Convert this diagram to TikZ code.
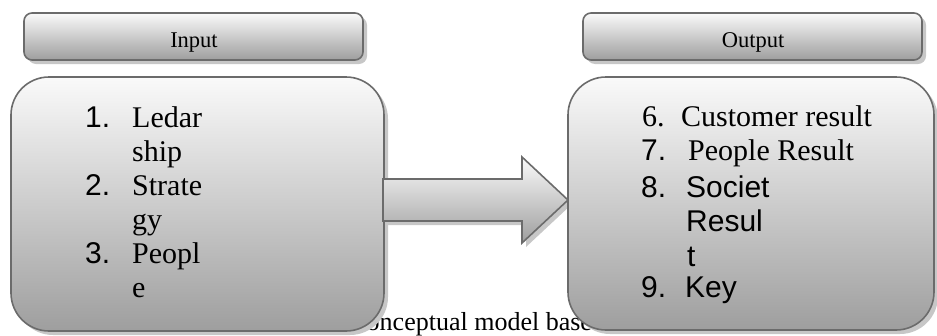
\documentclass[tikz,border=0pt]{standalone}
\usepackage{fontspec}
\setmainfont{Liberation Serif}
\newfontfamily\arialfont{Liberation Sans}
\usetikzlibrary{shadows}
\begin{document}
\begin{tikzpicture}[x=1pt,y=-1pt,
  frame/.style={draw=black!58, line width=1.6pt},
  shade/.style={top color=black!2, bottom color=black!38},
  shadowed/.style={drop shadow={shadow xshift=4pt, shadow yshift=-4pt, fill=black!22, opacity=1}},
  headbox/.style={frame, shade, shadowed, rounded corners=8pt, minimum width=339pt, minimum height=47pt, inner sep=0pt},
  mainbox/.style={frame, shade, shadowed, rounded corners=38pt, inner sep=0pt},
  item/.style={anchor=base west, inner sep=0pt, font=\fontsize{30}{34}\selectfont},
  sitem/.style={item, font=\arialfont\fontsize{30}{34}\selectfont},
  headtext/.style={anchor=base, inner sep=0pt, font=\fontsize{22.5}{26}\selectfont}]
\useasboundingbox (0,0) rectangle (937,335);

% caption line, partly covered by the boxes
\node[anchor=base west, inner sep=0pt, font=\fontsize{26}{30}\selectfont] (caption) at (355,330) {conceptual model based};

% input box
\node[mainbox, minimum width=373pt, minimum height=254pt] (inbox) at (197.5,204) {};

% arrow from input to output
\coordinate (a0) at (383,179);
\coordinate (a1) at (522,179);
\coordinate (a2) at (522,157);
\coordinate (tip) at (568,200);
\coordinate (a3) at (522,243);
\coordinate (a4) at (522,221);
\coordinate (a5) at (383,221);
\fill[black!22] ([shift={(4,4)}]a0) -- ([shift={(4,4)}]a1) -- ([shift={(4,4)}]a2) -- ([shift={(4,4)}]tip) -- ([shift={(4,4)}]a3) -- ([shift={(4,4)}]a4) -- ([shift={(4,4)}]a5) -- cycle;
\draw[frame, shade] (a0) -- (a1) -- (a2) -- (tip) -- (a3) -- (a4) -- (a5) -- cycle;

% output box
\node[mainbox, minimum width=366pt, minimum height=253pt] (outbox) at (751,203.5) {};

% headers
\node[headbox] (inhead) at (193.5,36.5) {};
\node[headtext] (intext) at (194,47) {Input};
\node[headbox] (outhead) at (752.5,36.5) {};
\node[headtext] (outtext) at (753,47) {Output};

% input list
\node[sitem] (n1) at (85,127) {1.};
\node[item] (t1) at (132,127) {Ledar};
\node[item] (t1b) at (132,161) {ship};
\node[sitem] (n2) at (85,195) {2.};
\node[item] (t2) at (132,195) {Strate};
\node[item] (t2b) at (132,229) {gy};
\node[sitem] (n3) at (85,263) {3.};
\node[item] (t3) at (132,263) {Peopl};
\node[item] (t3b) at (132,297) {e};

% output list
\node[item] (n6) at (642,126) {6.};
\node[item] (t6) at (681,126) {Customer result};
\node[sitem] (n7) at (641,160) {7.};
\node[item] (t7) at (688,160) {People Result};
\node[sitem] (n8) at (641,197) {8.};
\node[sitem] (t8) at (686,197) {Societ};
\node[sitem] (t8b) at (686,231) {Resul};
\node[sitem] (t8c) at (687,266) {t};
\node[sitem] (n9) at (641,297) {9.};
\node[sitem] (t9) at (685,297) {Key};
\end{tikzpicture}
\end{document}
